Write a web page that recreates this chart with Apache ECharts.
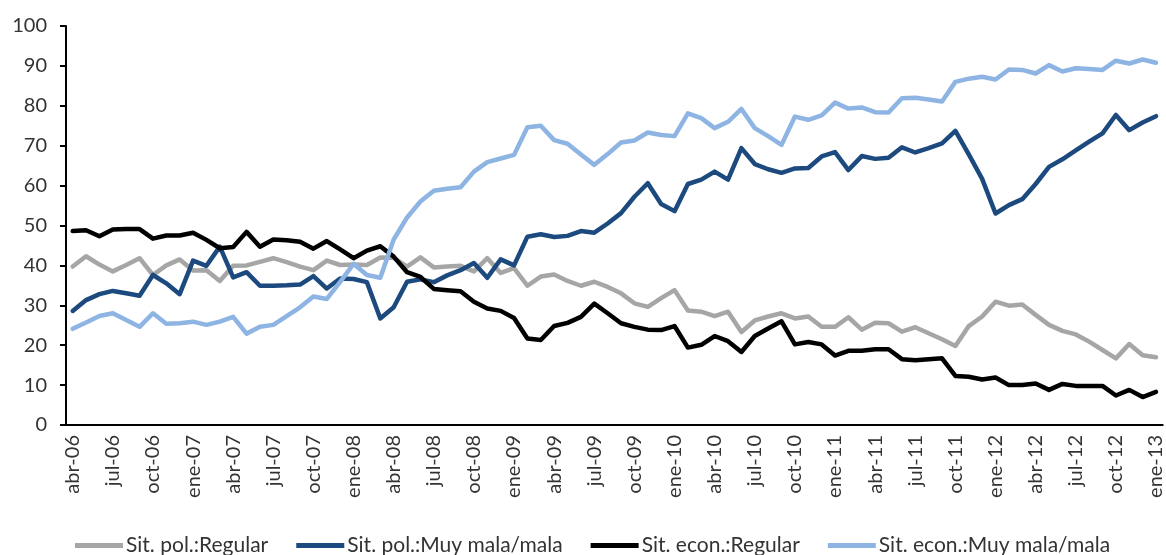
<!DOCTYPE html>
<html>
<head>
<meta charset="utf-8">
<script src="https://cdn.jsdelivr.net/npm/echarts@6/dist/echarts.min.js"></script>
<style>
html,body{margin:0;padding:0;background:#fff;}
#chart{width:1166px;height:555px;}
</style>
</head>
<body>
<div id="chart"></div>
<script>
const categories = [
  'abr-06','may-06','jun-06','jul-06','ago-06','sep-06','oct-06','nov-06','dic-06',
  'ene-07','feb-07','mar-07','abr-07','may-07','jun-07','jul-07','ago-07','sep-07','oct-07','nov-07','dic-07',
  'ene-08','feb-08','mar-08','abr-08','may-08','jun-08','jul-08','ago-08','sep-08','oct-08','nov-08','dic-08',
  'ene-09','feb-09','mar-09','abr-09','may-09','jun-09','jul-09','ago-09','sep-09','oct-09','nov-09','dic-09',
  'ene-10','feb-10','mar-10','abr-10','may-10','jun-10','jul-10','ago-10','sep-10','oct-10','nov-10','dic-10',
  'ene-11','feb-11','mar-11','abr-11','may-11','jun-11','jul-11','ago-11','sep-11','oct-11','nov-11','dic-11',
  'ene-12','feb-12','mar-12','abr-12','may-12','jun-12','jul-12','ago-12','sep-12','oct-12','nov-12','dic-12',
  'ene-13'
];

const seriesNames = ['Sit. pol.:Regular', 'Sit. pol.:Muy mala/mala', 'Sit. econ.:Regular', 'Sit. econ.:Muy mala/mala'];

const polRegular = [
  39.7,42.3,40.2,38.5,40.1,41.8,37.6,40.0,41.5,38.7,38.8,36.1,39.9,40.0,40.9,41.8,40.8,39.7,38.8,41.2,
  40.1,40.2,40.1,42.0,41.9,39.7,42.0,39.5,39.7,39.9,38.5,41.8,38.1,39.3,34.9,37.2,37.7,36.1,34.9,35.9,
  34.6,33.0,30.5,29.6,31.8,33.8,28.7,28.4,27.3,28.4,23.3,26.2,27.2,28.0,26.7,27.2,24.6,24.6,27.0,23.9,
  25.6,25.5,23.4,24.5,23.0,21.5,19.8,24.8,27.2,30.9,29.9,30.2,27.6,25.1,23.6,22.7,20.9,18.8,16.7,20.3,
  17.5,17.0
];

const polMala = [
  28.6,31.3,32.8,33.6,33.0,32.4,37.6,35.5,32.8,41.2,39.9,44.7,37.0,38.3,34.9,34.9,35.0,35.2,37.3,34.2,
  36.7,36.6,35.8,26.7,29.5,35.9,36.5,35.8,37.5,38.8,40.6,36.9,41.5,40.0,47.2,47.8,47.1,47.4,48.6,48.2,
  50.5,53.1,57.2,60.6,55.4,53.6,60.4,61.5,63.5,61.5,69.4,65.4,64.1,63.2,64.3,64.4,67.3,68.4,63.9,67.4,
  66.7,67.0,69.6,68.3,69.4,70.6,73.7,67.8,61.7,53.0,55.1,56.6,60.4,64.7,66.6,68.8,71.0,73.1,77.7,73.9,
  75.8,77.4
];

const econRegular = [
  48.6,48.8,47.3,49.0,49.1,49.1,46.7,47.5,47.5,48.2,46.4,44.3,44.6,48.4,44.7,46.5,46.3,45.9,44.2,46.1,
  44.0,41.8,43.7,44.8,42.2,38.3,37.1,34.1,33.8,33.5,30.9,29.2,28.6,26.8,21.7,21.3,24.8,25.6,27.1,30.4,
  28.0,25.5,24.6,23.9,23.8,24.8,19.4,20.1,22.3,21.0,18.3,22.3,24.2,26.0,20.2,20.8,20.2,17.4,18.6,18.6,
  19.0,19.0,16.5,16.2,16.5,16.7,12.3,12.1,11.4,11.9,10.0,10.0,10.4,8.8,10.3,9.8,9.8,9.8,7.4,8.8,
  7.0,8.3
];

const econMala = [
  24.1,25.7,27.3,28.0,26.3,24.6,28.0,25.4,25.5,25.9,25.1,25.9,27.1,22.9,24.6,25.1,27.3,29.5,32.2,31.6,
  35.9,40.4,37.6,36.9,46.5,52.0,56.0,58.7,59.2,59.6,63.5,65.9,66.8,67.7,74.6,75.0,71.4,70.5,67.8,65.2,
  67.9,70.8,71.3,73.3,72.7,72.4,78.1,76.9,74.4,76.0,79.2,74.4,72.4,70.2,77.3,76.5,77.6,80.8,79.3,79.6,
  78.4,78.3,81.9,82.0,81.6,81.1,86.0,86.8,87.3,86.6,89.1,89.0,88.1,90.2,88.6,89.4,89.2,89.0,91.3,90.6,
  91.6,90.8
];

const seriesData = [polRegular, polMala, econRegular, econMala];
const colors = ['#A6A6A6', '#1C4A7E', '#000000', '#8DB4E2'];

const FONT = 'Lato, "Open Sans", sans-serif';
const chart = echarts.init(document.getElementById('chart'), null, {renderer: 'canvas'});
chart.setOption({
  animation: false,
  backgroundColor: '#ffffff',
  color: colors,
  grid: {left: 66, right: 2, top: 26, bottom: 130, containLabel: false},
  legend: {
    data: seriesNames,
    left: 70,
    top: 530,
    icon: 'rect',
    itemWidth: 48,
    itemHeight: 5,
    itemGap: 28,
    textStyle: {fontFamily: FONT, fontSize: 21, color: '#333', padding: [0, 0, 0, -2]}
  },
  xAxis: {
    type: 'category',
    data: categories,
    boundaryGap: true,
    axisLine: {lineStyle: {color: '#000', width: 2}},
    axisTick: {interval: 2, length: 6, lineStyle: {color: '#000', width: 2}},
    axisLabel: {interval: 2, rotate: 90, margin: 10, fontFamily: FONT, fontSize: 20, color: '#333'},
    splitLine: {show: false}
  },
  yAxis: {
    type: 'value',
    min: 0, max: 100, interval: 10,
    axisLine: {show: true, lineStyle: {color: '#000', width: 2}},
    axisTick: {show: true, length: 6, lineStyle: {color: '#000', width: 2}},
    axisLabel: {margin: 19, fontFamily: FONT, fontSize: 20, color: '#333'},
    splitLine: {show: false}
  },
  series: seriesNames.map((n, k) => ({
    name: n,
    type: 'line',
    data: seriesData[k],
    symbol: 'none',
    lineStyle: {width: 4.5, color: colors[k], join: 'round', cap: 'round'},
    itemStyle: {color: colors[k]}
  }))
});
</script>
</body>
</html>
